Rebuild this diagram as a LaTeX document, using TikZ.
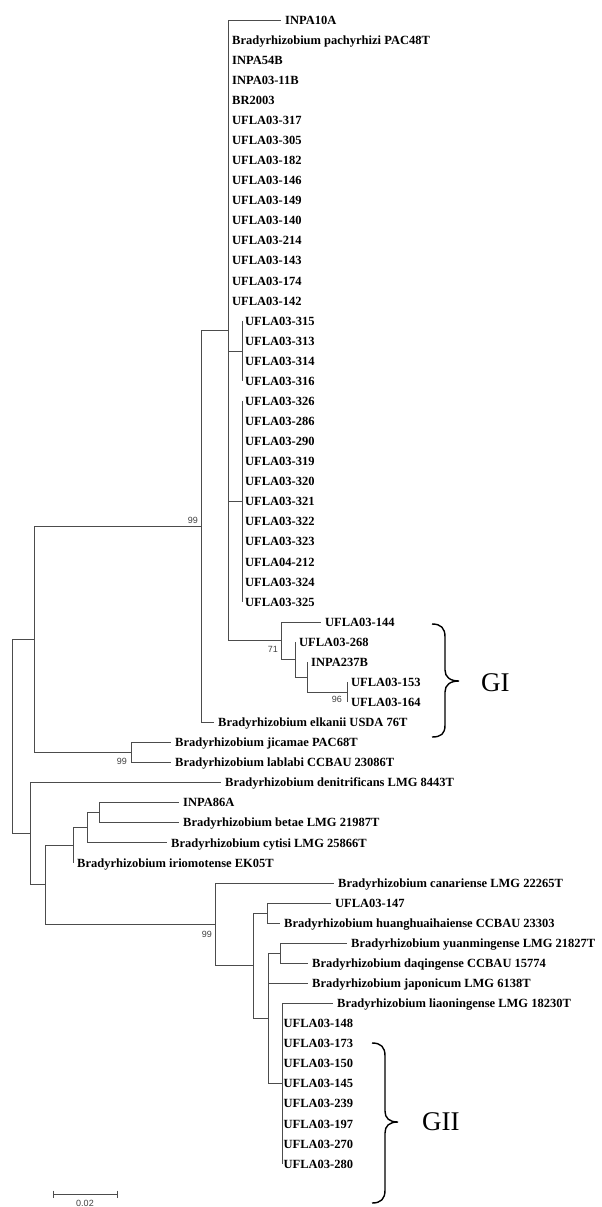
\documentclass[tikz,border=0pt]{standalone}
\usepackage{fontspec}
\setmainfont{Liberation Serif}
\newfontfamily\bootsans{Liberation Sans}
\begin{document}
\begin{tikzpicture}[x=1pt, y=-20.07pt,
  branch/.style={draw=black!70, line width=0.9pt},
  taxon/.style={anchor=west, inner xsep=4pt, inner ysep=0pt, text height=8.3pt, text depth=0pt, font=\bfseries\fontsize{12.5}{14}\selectfont},
  bootval/.style={inner sep=0pt, text=black!75, font=\bootsans\fontsize{9}{10}\selectfont},
  grouplabel/.style={anchor=west, inner sep=0pt, font=\fontsize{27}{30}\selectfont},
  cladebrace/.style={draw=black, line width=1.4pt}]
\begin{scope}[y=-1pt, yshift=20pt]
  \useasboundingbox (0,0) rectangle (602,1207);
\end{scope}

% inner nodes (x in px, y in rows)
\coordinate (root) at (12,35.707);
\coordinate (nU) at (34,30.867);
\coordinate (nB) at (201,25.234);
\coordinate (nA) at (228,15.469);
\coordinate (nS1) at (242,16.5);
\coordinate (nS2) at (242,24);
\coordinate (n144) at (281,30.938);
\coordinate (n268) at (295,31.875);
\coordinate (n237) at (307,32.75);
\coordinate (n153) at (347,33.5);
\coordinate (nJ) at (131,36.5);
\coordinate (nL) at (30,40.547);
\coordinate (nM) at (45,43.094);
\coordinate (nP) at (73,41.125);
\coordinate (nPi) at (87,40.25);
\coordinate (nPb) at (99,39.5);
\coordinate (nQ) at (215,45.063);
\coordinate (nQ2) at (253,47.125);
\coordinate (nQ3) at (267,44.5);
\coordinate (nQ4) at (268,49.75);
\coordinate (nY) at (280,46.5);
\coordinate (nLc) at (282,53);

% taxa
\node[taxon] (t0) at (281,0) {INPA10A};
\foreach \lab [count=\i] in {Bradyrhizobium pachyrhizi PAC48T, INPA54B, INPA03-11B, BR2003, UFLA03-317, UFLA03-305, UFLA03-182, UFLA03-146, UFLA03-149, UFLA03-140, UFLA03-214, UFLA03-143, UFLA03-174, UFLA03-142}
  \node[taxon] (t\i) at (228,\i) {\lab};
\foreach \lab [count=\i from 15] in {UFLA03-315, UFLA03-313, UFLA03-314, UFLA03-316}
  \node[taxon, inner xsep=3pt] (t\i) at (242,\i) {\lab};
\foreach \lab [count=\i from 19] in {UFLA03-326, UFLA03-286, UFLA03-290, UFLA03-319, UFLA03-320, UFLA03-321, UFLA03-322, UFLA03-323, UFLA04-212, UFLA03-324, UFLA03-325}
  \node[taxon, inner xsep=3pt] (t\i) at (242,\i) {\lab};
\node[taxon] (t30) at (321,30) {UFLA03-144};
\node[taxon] (t31) at (295,31) {UFLA03-268};
\node[taxon] (t32) at (307,32) {INPA237B};
\node[taxon] (t33) at (347,33) {UFLA03-153};
\node[taxon] (t34) at (347,34) {UFLA03-164};
\node[taxon] (t35) at (214,35) {Bradyrhizobium elkanii USDA 76T};
\node[taxon] (t36) at (171,36) {Bradyrhizobium jicamae PAC68T};
\node[taxon] (t37) at (171,37) {Bradyrhizobium lablabi CCBAU 23086T};
\node[taxon] (t38) at (221,38) {Bradyrhizobium denitrificans LMG 8443T};
\node[taxon] (t39) at (179,39) {INPA86A};
\node[taxon] (t40) at (179,40) {Bradyrhizobium betae LMG 21987T};
\node[taxon] (t41) at (167,41) {Bradyrhizobium cytisi LMG 25866T};
\node[taxon] (t42) at (73,42) {Bradyrhizobium iriomotense EK05T};
\node[taxon] (t43) at (334,43) {Bradyrhizobium canariense LMG 22265T};
\node[taxon] (t44) at (331,44) {UFLA03-147};
\node[taxon] (t45) at (280,45) {Bradyrhizobium huanghuaihaiense CCBAU 23303};
\node[taxon] (t46) at (347,46) {Bradyrhizobium yuanmingense LMG 21827T};
\node[taxon] (t47) at (308,47) {Bradyrhizobium daqingense CCBAU 15774};
\node[taxon] (t48) at (308,48) {Bradyrhizobium japonicum LMG 6138T};
\node[taxon] (t49) at (333,49) {Bradyrhizobium liaoningense LMG 18230T};
\foreach \lab [count=\i from 50] in {UFLA03-148, UFLA03-173, UFLA03-150, UFLA03-145, UFLA03-239, UFLA03-197, UFLA03-270, UFLA03-280}
  \node[taxon, inner xsep=1.5pt] (t\i) at (282,\i) {\lab};

% branches
\draw[branch] (nA) |- (t0.west);
\foreach \i in {1,...,14} \draw[branch] (nA) |- (t\i.west);
\draw[branch] (nA) |- (nS1);
\draw[branch] (nA) |- (nS2);
\draw[branch] (nA) |- (n144);
\foreach \i in {15,...,18} \draw[branch] (nS1) |- (t\i.west);
\foreach \i in {19,...,29} \draw[branch] (nS2) |- (t\i.west);
\draw[branch] (n144) |- (t30.west);
\draw[branch] (n144) |- (n268);
\draw[branch] (n268) |- (t31.west);
\draw[branch] (n268) |- (n237);
\draw[branch] (n237) |- (t32.west);
\draw[branch] (n237) |- (n153);
\draw[branch] (n153) |- (t33.west);
\draw[branch] (n153) |- (t34.west);
\draw[branch] (nB) |- (nA);
\draw[branch] (nB) |- (t35.west);
\draw[branch] (nJ) |- (t36.west);
\draw[branch] (nJ) |- (t37.west);
\draw[branch] (nU) |- (nB);
\draw[branch] (nU) |- (nJ);
\draw[branch] (root) |- (nU);
\draw[branch] (root) |- (nL);
\draw[branch] (nL) |- (t38.west);
\draw[branch] (nL) |- (nM);
\draw[branch] (nM) |- (nP);
\draw[branch] (nM) |- (nQ);
\draw[branch] (nP) |- (nPi);
\draw[branch] (nP) |- (t42.west);
\draw[branch] (nPi) |- (nPb);
\draw[branch] (nPi) |- (t41.west);
\draw[branch] (nPb) |- (t39.west);
\draw[branch] (nPb) |- (t40.west);
\draw[branch] (nQ) |- (t43.west);
\draw[branch] (nQ) |- (nQ2);
\draw[branch] (nQ2) |- (nQ3);
\draw[branch] (nQ2) |- (nQ4);
\draw[branch] (nQ3) |- (t44.west);
\draw[branch] (nQ3) |- (t45.west);
\draw[branch] (nQ4) |- (nY);
\draw[branch] (nQ4) |- (t48.west);
\draw[branch] (nQ4) |- (nLc);
\draw[branch] (nY) |- (t46.west);
\draw[branch] (nY) |- (t47.west);
\draw[branch] (nLc) |- (t49.west);
\foreach \i in {50,...,57} \draw[branch] (nLc) |- (t\i.west);

% bootstrap values
\node[bootval, anchor=south east] (bsB) at ([shift={(-3pt,2.5pt)}]nB) {99};
\node[bootval, anchor=north east] (bsJ) at ([shift={(-4pt,-5.5pt)}]nJ) {99};
\node[bootval, anchor=north east] (bs144) at ([shift={(-3pt,-5pt)}]n144) {71};
\node[bootval, anchor=north east] (bs153) at ([shift={(-5pt,-4pt)}]n153) {96};
\node[bootval, anchor=north east] (bsQ) at ([shift={(-3pt,-6.5pt)}]nQ) {99};

\begin{scope}[y=-1pt, yshift=20pt]
  \draw[cladebrace] (432,624) .. controls (441,624) and (445,628) .. (445,637) -- (445,670)
    .. controls (445,677) and (450,681) .. (459,681) .. controls (450,681) and (445,685) .. (445,692)
    -- (445,725) .. controls (445,734) and (441,737) .. (432,737);
  \node[grouplabel] (gI) at (481,683) {GI};
  \draw[cladebrace] (372,1043) .. controls (381,1043) and (385,1047) .. (385,1056) -- (385,1111)
    .. controls (385,1118) and (389,1122) .. (398,1122) .. controls (389,1122) and (385,1126) .. (385,1133)
    -- (385,1190) .. controls (385,1199) and (381,1203) .. (372,1203);
  \node[grouplabel] (gII) at (422,1122) {GII};
  % scale bar
  \coordinate (sb1) at (53,1194);
  \coordinate (sb2) at (117,1194);
  \draw[branch] (sb1) -- (sb2);
  \draw[branch] ([yshift=3.5pt]sb1) -- ([yshift=-3.5pt]sb1);
  \draw[branch] ([yshift=3.5pt]sb2) -- ([yshift=-3.5pt]sb2);
  \node[bootval] (sbl) at (85,1203) {0.02};
\end{scope}
\end{tikzpicture}
\end{document}
